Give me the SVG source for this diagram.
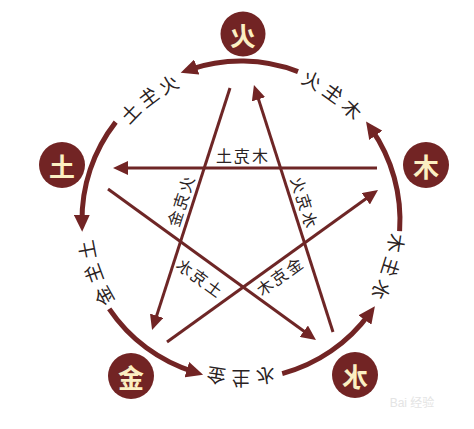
<svg xmlns="http://www.w3.org/2000/svg" width="474" height="429" viewBox="0 0 474 429">
<style>
.ring{fill:none;stroke:#722424;stroke-width:5}
.star{fill:none;stroke:#6e2626;stroke-width:3}
.node circle{fill:#722424}
.node text{font-family:"Noto Sans CJK SC","Noto Sans CJK TC",sans-serif;font-weight:bold;font-size:26px;fill:#fbefc2;text-anchor:middle;dominant-baseline:central}
.lab{font-family:"Noto Sans CJK SC","Noto Sans CJK TC",sans-serif;font-size:19px;fill:#2a2222;text-anchor:middle;dominant-baseline:central}
.kl{font-family:"Noto Sans CJK SC","Noto Sans CJK TC",sans-serif;font-size:16px;fill:#2a2222;text-anchor:middle;dominant-baseline:central;letter-spacing:2px}
</style>
<defs>
<marker id="ah" markerUnits="userSpaceOnUse" markerWidth="16" markerHeight="14" refX="7" refY="7" orient="auto" viewBox="0 0 16 14">
<path d="M0,0 L15,7 L0,14 z" fill="#722424"/>
</marker>
<marker id="ahr" markerUnits="userSpaceOnUse" markerWidth="18" markerHeight="16" refX="8" refY="8" orient="auto" viewBox="0 0 18 16">
<path d="M0,0 L17,8 L0,16 z" fill="#722424"/>
</marker>
</defs>
<rect width="474" height="429" fill="#ffffff"/>
<g id="connectors">
<path class="ring" marker-end="url(#ahr)" d="M399.6,231.1 A159,159 0 0 0 371.2,128.8"/>
<path class="ring" marker-end="url(#ahr)" d="M298.0,71.6 A159,159 0 0 0 189.2,69.7"/>
<path class="ring" marker-end="url(#ahr)" d="M115.7,122.1 A159,159 0 0 0 82.0,222.8"/>
<path class="ring" marker-end="url(#ahr)" d="M109.2,308.9 A159,159 0 0 0 194.5,372.1"/>
<path class="ring" marker-end="url(#ahr)" d="M282.2,373.6 A159,159 0 0 0 369.6,313.5"/>
<path class="star" marker-end="url(#ah)" d="M377,168 L121,168"/>
<path class="star" marker-end="url(#ah)" d="M230,88 L154.5,322.4"/>
<path class="star" marker-end="url(#ah)" d="M333,332 L256.4,92.6"/>
<path class="star" marker-end="url(#ah)" d="M108,189 L309.5,335.3"/>
<path class="star" marker-end="url(#ah)" d="M167,342 L371.5,194.7"/>
</g>
<g id="ring-labels">
<text class="lab" transform="translate(352.7,108.3) rotate(45) scale(-1,1)">木</text>
<text class="lab" transform="translate(333.9,92.2) rotate(36) scale(-1,1)">生</text>
<text class="lab" transform="translate(312.7,79.2) rotate(27) scale(-1,1)">火</text>
<text class="lab" transform="translate(168.2,83.2) rotate(-28) scale(-1,1)">火</text>
<text class="lab" transform="translate(147.7,96.2) rotate(-37) scale(-1,1)">生</text>
<text class="lab" transform="translate(129.5,112.3) rotate(-46) scale(-1,1)">土</text>
<text class="lab" transform="translate(85.9,250.1) rotate(259) scale(-1,1)">土</text>
<text class="lab" transform="translate(92.5,274.0) rotate(250) scale(-1,1)">生</text>
<text class="lab" transform="translate(102.8,296.6) rotate(241) scale(-1,1)">金</text>
<text class="lab" transform="translate(216.1,377.0) rotate(189) scale(-1,1)">金</text>
<text class="lab" transform="translate(241,379) rotate(180) scale(-1,1)">生</text>
<text class="lab" transform="translate(265.9,377.0) rotate(171) scale(-1,1)">水</text>
<text class="lab" transform="translate(382.4,290.5) rotate(116.5) scale(-1,1)">水</text>
<text class="lab" transform="translate(391.7,267.5) rotate(107.5) scale(-1,1)">生</text>
<text class="lab" transform="translate(397.3,243.4) rotate(98.5) scale(-1,1)">木</text>
</g>
<g id="ke-labels">
<text class="kl" x="1" transform="translate(242,155) scale(-1,1)">木克土</text>
<text class="kl" x="1" transform="translate(180,201) rotate(-72) scale(-1,1)">火克金</text>
<text class="kl" x="1" transform="translate(305,202) rotate(72.5) scale(-1,1)">水克火</text>
<text class="kl" x="1" transform="translate(200,277) rotate(36) scale(-1,1)">土克水</text>
<text class="kl" x="1" transform="translate(279,276) rotate(-35.7) scale(-1,1)">金克木</text>
</g>
<g id="node-huo" class="node"><circle cx="243" cy="34" r="22.5"/><text transform="translate(243,34) scale(-1,1)">火</text></g>
<g id="node-tu" class="node"><circle cx="62" cy="165" r="23"/><text transform="translate(62,165) scale(-1,1)">土</text></g>
<g id="node-mu" class="node"><circle cx="426" cy="165" r="23"/><text transform="translate(426,165) scale(-1,1)">木</text></g>
<g id="node-jin" class="node"><circle cx="131" cy="376" r="23"/><text transform="translate(131,376) scale(-1,1)">金</text></g>
<g id="node-shui" class="node"><circle cx="355" cy="375" r="23"/><text transform="translate(355,375) scale(-1,1)">水</text></g>
<text x="412" y="407" font-family="Liberation Sans,'Noto Sans CJK SC',sans-serif" font-size="12" fill="#e4e4e4" text-anchor="middle">Bai 经验</text>
</svg>
